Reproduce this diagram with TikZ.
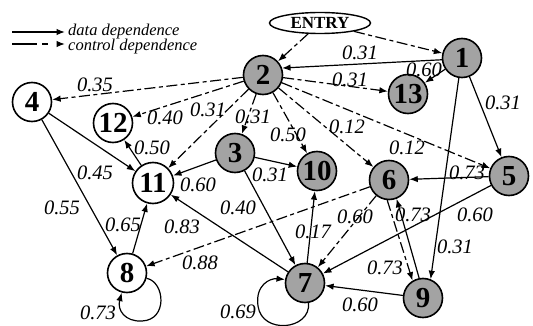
\documentclass[tikz,border=0pt]{standalone}
\usepackage{fontspec}
\setmainfont{Liberation Serif}
\usetikzlibrary{arrows.meta,shapes.geometric}
\begin{document}
\begin{tikzpicture}[x=1pt,y=-1pt,
  gnode/.style={circle,draw,line width=1.6pt,minimum size=39pt,inner sep=0pt,font=\fontsize{29}{29}\selectfont\bfseries},
  snode/.style={gnode,fill=black!36},
  wnode/.style={gnode,fill=white},
  dep/.style={line width=1.2pt,-{Latex[length=8.5pt,width=6.5pt]}},
  ctl/.style={dep,dash pattern=on 11pt off 3.5pt on 4pt off 3.5pt},
  wt/.style={font=\fontsize{20.5}{20.5}\selectfont\itshape,inner sep=0pt},
  lg/.style={font=\fontsize{16.5}{16.5}\selectfont\itshape,inner sep=0pt,anchor=base west},
]
\useasboundingbox (0,0) rectangle (533,326);

% legend
\coordinate (la1) at (12,32); \coordinate (lb1) at (65,32);
\draw[dep] (la1) -- (lb1);
\node[lg] (lt1) at (68,35.5) {data dependence};
\coordinate (la2) at (12,44); \coordinate (lb2) at (65,44);
\draw[dep,dash pattern=on 25pt off 5pt on 6pt off 20pt] (la2) -- (lb2);
\node[lg] (lt2) at (68,50.5) {control dependence};

% nodes
\node[draw,ellipse,line width=1.4pt,minimum width=101pt,minimum height=21pt,inner sep=0pt,
      font=\fontsize{17}{17}\selectfont\bfseries] (E) at (320,23) {ENTRY};
\node[snode] (n1) at (462,58) {1};
\node[snode] (n2) at (263,75) {2};
\node[snode] (n13) at (408,94) {13};
\node[wnode] (n4) at (32,102) {4};
\node[wnode] (n12) at (113,123) {12};
\node[wnode,minimum size=41pt] (n11) at (153,183) {11};
\node[snode] (n3) at (235,153) {3};
\node[snode] (n10) at (317,171) {10};
\node[snode] (n6) at (389,180) {6};
\node[snode] (n5) at (509,176) {5};
\node[wnode] (n8) at (127,273) {8};
\node[snode] (n7) at (305,283) {7};
\node[snode] (n9) at (423,298) {9};

% control dependences
\draw[ctl] (E) -- (n2);
\draw[ctl] (E) -- (n1);
\draw[ctl] (n2) -- (n4);
\draw[ctl] (n2) -- (n12);
\draw[ctl] (n2) -- (n11);
\draw[ctl] (n2) -- (n3);
\draw[ctl] (n2) -- (n10);
\draw[ctl] (n2) -- (n6);
\draw[ctl] (n2) -- (n5);
\draw[ctl] (n2) -- (n13);
\draw[ctl] (n6) -- (n8);
\draw[ctl] (n6) -- (n7);
\draw[ctl] (n6.-95) -- (n9.121);

% data dependences
\draw[dep] (n1.185) -- (n2.20);
\draw[dep] (n1) -- (n13);
\draw[dep] (n1) -- (n5);
\draw[dep] (n1.261) -- (n9.68);
\draw[dep] (n3) -- (n11);
\draw[dep] (n3) -- (n10);
\draw[dep] (n3) -- (n7);
\draw[dep] (n4) -- (n11);
\draw[dep] (n4) -- (n8);
\draw[dep] (n11) -- (n12);
\draw[dep] (n8) -- (n11);
\draw[dep] (n7) -- (n11);
\draw[dep] (n7) -- (n10);
\draw[dep] (n5) -- (n6);
\draw[dep] (n5) -- (n7);
\draw[dep] (n9.101) -- (n6.-68);
\draw[dep] (n9) -- (n7);
\draw[dep] (n8.-15) .. controls (165,282) and (168,320) .. (142,321)
                    .. controls (125,322) and (117,310) .. (n8.255);
\draw[dep] (n7.-80) .. controls (311,330) and (262,335) .. (258,306)
                    .. controls (255,285) and (270,278) .. (n7.170);

% weights
\node[wt] (w12) at (360,53) {0.31};
\node[wt] (w113) at (424,70) {0.60};
\node[wt] (w15) at (503,103) {0.31};
\node[wt] (w19) at (455,247) {0.31};
\node[wt] (w213) at (350,80) {0.31};
\node[wt] (w24) at (95,85) {0.35};
\node[wt] (w212) at (165,118) {0.40};
\node[wt] (w211) at (208,110) {0.31};
\node[wt] (w23) at (253,117) {0.31};
\node[wt] (w210) at (288,135) {0.50};
\node[wt] (w26) at (347,127) {0.12};
\node[wt] (w25) at (407,148) {0.12};
\node[wt] (w1112) at (152,148) {0.50};
\node[wt] (w311) at (198,185) {0.60};
\node[wt] (w310) at (270,175) {0.31};
\node[wt] (w37) at (238,208) {0.40};
\node[wt] (w411) at (95,173) {0.45};
\node[wt] (w48) at (62,208) {0.55};
\node[wt] (w811) at (123,225) {0.65};
\node[wt] (w711) at (182,227) {0.83};
\node[wt] (w68) at (200,263) {0.88};
\node[wt] (w710) at (313,232) {0.17};
\node[wt] (w67) at (355,217) {0.60};
\node[wt] (w56) at (467,173) {0.73};
\node[wt] (w57) at (475,215) {0.60};
\node[wt] (w96) at (413,215) {0.73};
\node[wt] (w69) at (385,268) {0.73};
\node[wt] (w97) at (360,305) {0.60};
\node[wt] (w88) at (98,313) {0.73};
\node[wt] (w77) at (238,312) {0.69};
\end{tikzpicture}
\end{document}
